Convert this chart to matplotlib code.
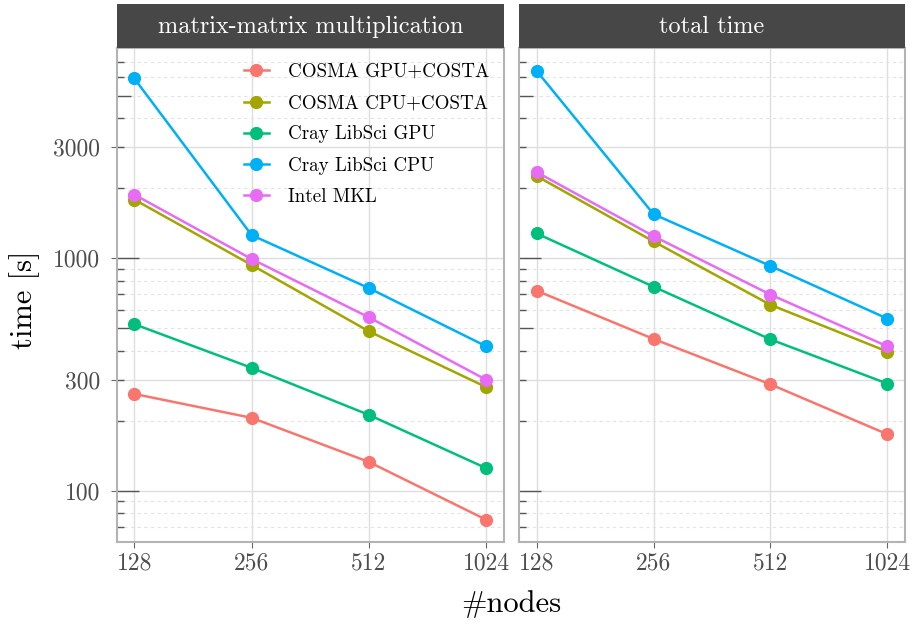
import numpy as np
import matplotlib
matplotlib.use("Agg")
import matplotlib.pyplot as plt
from matplotlib.ticker import FixedLocator, NullFormatter
from matplotlib.transforms import blended_transform_factory
from matplotlib.lines import Line2D

plt.rcParams['font.family'] = ['cmr10', 'DejaVu Serif']
plt.rcParams['axes.unicode_minus'] = False
plt.rcParams['axes.formatter.use_mathtext'] = True

nodes = [128, 256, 512, 1024]
series = ['COSMA GPU+COSTA', 'COSMA CPU+COSTA', 'Cray LibSci GPU', 'Cray LibSci CPU', 'Intel MKL']
colors = ['#F8766D', '#A3A500', '#00BF7D', '#00B0F6', '#E76BF3']
facets = ['matrix-matrix multiplication', 'total time']

# matrix-matrix multiplication times [s]
mm_cosma_gpu = [261, 206, 133, 75]
mm_cosma_cpu = [1790, 936, 485, 279]
mm_libsci_gpu = [521, 338, 212, 125]
mm_libsci_cpu = [5940, 1258, 744, 418]
mm_mkl = [1880, 993, 557, 300]

# total times [s]
tot_cosma_gpu = [726, 450, 287, 175]
tot_cosma_cpu = [2260, 1182, 631, 397]
tot_libsci_gpu = [1280, 755, 448, 289]
tot_libsci_cpu = [6410, 1549, 927, 550]
tot_mkl = [2350, 1246, 698, 418]

data = {
    facets[0]: [mm_cosma_gpu, mm_cosma_cpu, mm_libsci_gpu, mm_libsci_cpu, mm_mkl],
    facets[1]: [tot_cosma_gpu, tot_cosma_cpu, tot_libsci_gpu, tot_libsci_cpu, tot_mkl],
}

y_major = [100, 300, 1000, 3000]
y_minor = [70, 80, 90, 200, 400, 500, 600, 700, 800, 900, 2000, 4000, 5000, 6000, 7000]
log_ticks = [70, 80, 90, 100, 200, 300, 400, 500, 600, 700, 800, 900,
             1000, 2000, 3000, 4000, 5000, 6000, 7000]

W, H = 915, 624
fig = plt.figure(figsize=(W / 100, H / 100), dpi=100)

panels = [(116.7, 504.0), (519.0, 905.0)]
p_top, p_bot = 48.3, 542.3
strip_top = 3.5

# limits with 5% expansion like ggplot
all_vals = np.concatenate([np.array(v) for f in facets for v in data[f]])
lo, hi = np.log10(all_vals.min()), np.log10(all_vals.max())
pad = 0.05 * (hi - lo)
ylim = (10 ** (lo - pad), 10 ** (hi + pad))
xl = np.log2(nodes)
xpad = 0.05 * (xl[-1] - xl[0])
xlim = (2 ** (xl[0] - xpad), 2 ** (xl[-1] + xpad))

axes = []
for i, (x0, x1) in enumerate(panels):
    ax = fig.add_axes([x0 / W, 1 - p_bot / H, (x1 - x0) / W, (p_bot - p_top) / H])
    axes.append(ax)
    ax.set_xscale('log', base=2)
    ax.set_yscale('log')
    ax.set_xlim(*xlim)
    ax.set_ylim(*ylim)

    ax.xaxis.set_major_locator(FixedLocator(nodes))
    ax.xaxis.set_minor_locator(FixedLocator([]))
    ax.set_xticklabels([str(n) for n in nodes])
    ax.yaxis.set_major_locator(FixedLocator(y_major))
    ax.yaxis.set_minor_locator(FixedLocator(y_minor))
    ax.yaxis.set_minor_formatter(NullFormatter())
    if i == 0:
        ax.set_yticklabels([str(v) for v in y_major])
        ax.tick_params(axis='y', which='major', length=4, width=0.8, color='#666666',
                       labelsize=17, labelcolor='#4D4D4D', pad=8)
    else:
        ax.tick_params(axis='y', which='major', length=0, labelleft=False)
    ax.tick_params(axis='y', which='minor', length=0)
    ax.tick_params(axis='x', which='major', length=4, width=0.8, color='#666666',
                   labelsize=17, labelcolor='#4D4D4D', pad=3)

    ax.grid(True, which='major', color='#DEDEDE', lw=1.0, zorder=0)
    ax.grid(True, which='minor', axis='y', color='#E3E3E3', lw=0.8,
            linestyle=(0, (3, 3)), zorder=0)
    ax.set_axisbelow(True)
    for s in ax.spines.values():
        s.set_color('#B3B3B3')
        s.set_linewidth(1.5)

    # log ticks inside the left edge
    tr = blended_transform_factory(ax.transAxes, ax.transData)
    for v in log_ticks:
        e = np.log10(v)
        if abs(e - round(e)) < 1e-9:
            L = 0.057
        elif str(v)[0] == '5':
            L = 0.036
        else:
            L = 0.018
        ax.plot([0, L], [v, v], transform=tr, color='#555555', lw=1.0, zorder=2,
                solid_capstyle='butt')

    for vals, name, c in zip(data[facets[i]], series, colors):
        ax.plot(nodes, vals, '-o', color=c, lw=1.8, ms=8.5, label=name, zorder=3)

    # facet strip
    sax = fig.add_axes([x0 / W, 1 - p_top / H, (x1 - x0) / W, (p_top - strip_top) / H])
    sax.set_facecolor('#474747')
    sax.set_xticks([])
    sax.set_yticks([])
    for s in sax.spines.values():
        s.set_visible(False)
    sax.text(0.5, 0.48, facets[i], color='white', fontsize=17.5,
             ha='center', va='center', transform=sax.transAxes)

handles = [Line2D([], [], color=c, marker='o', lw=1.8, ms=8.5) for c in colors]
fig.legend(handles, series, loc='upper left', bbox_to_anchor=(244 / W, 1 - 63 / H),
           frameon=False, fontsize=13.7, handlelength=1.3, handletextpad=1.0,
           labelspacing=0.7, borderpad=0, borderaxespad=0)

fig.text(25 / W, 1 - 300 / H, 'time [s]', rotation=90, fontsize=22,
         ha='center', va='center')
fig.text(511 / W, 1 - 604 / H, '#nodes', fontsize=22, ha='center', va='center')

fig.savefig('out.png', dpi=100)
